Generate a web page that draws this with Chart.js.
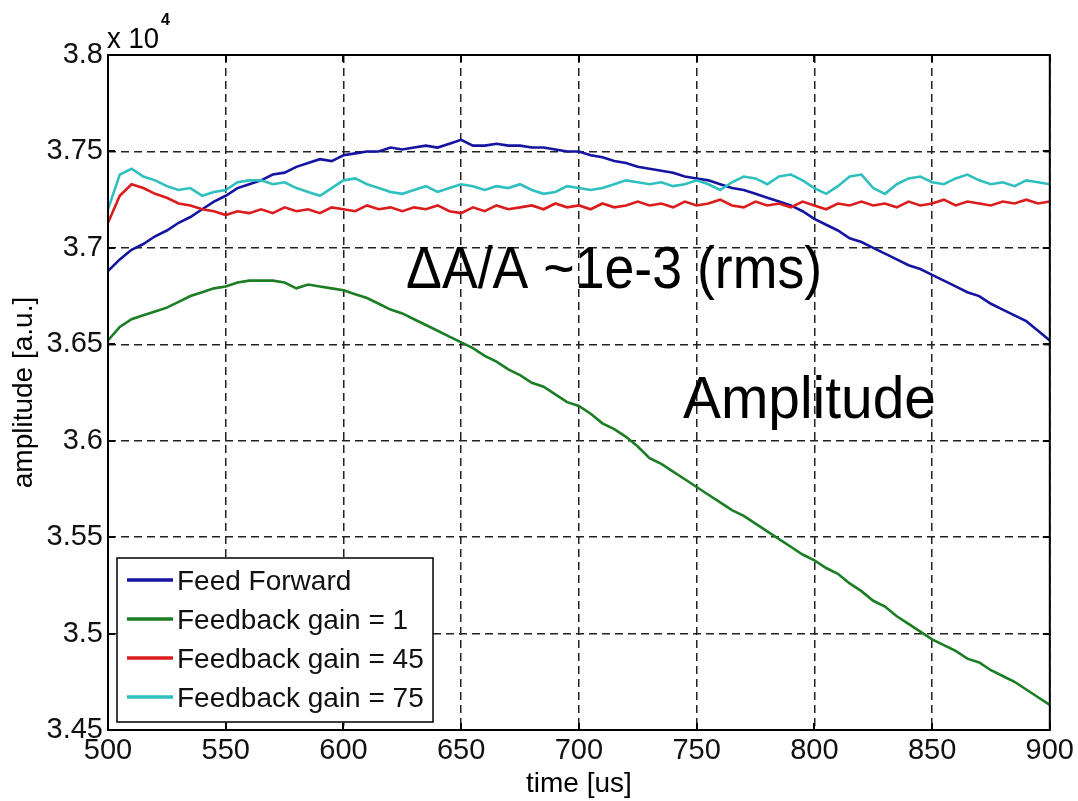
<!DOCTYPE html>
<html>
<head>
    <title>Amplitude</title>
    <script src="https://cdn.jsdelivr.net/npm/chart.js@4.4.0/dist/chart.umd.min.js"></script>
    <style>
        body { margin: 0; background: #fff; }
        #chart-container { width: 1078px; height: 801px; }
    </style>
</head>
<body>
    <div id="chart-container">
        <canvas id="ampChart" width="1078" height="801"></canvas>
    </div>
    <script>
        // sample times [us]
        const timeUs = [
            500, 505, 510, 515, 520, 525, 530, 535, 540, 545,
            550, 555, 560, 565, 570, 575, 580, 585, 590, 595,
            600, 605, 610, 615, 620, 625, 630, 635, 640, 645,
            650, 655, 660, 665, 670, 675, 680, 685, 690, 695,
            700, 705, 710, 715, 720, 725, 730, 735, 740, 745,
            750, 755, 760, 765, 770, 775, 780, 785, 790, 795,
            800, 805, 810, 815, 820, 825, 830, 835, 840, 845,
            850, 855, 860, 865, 870, 875, 880, 885, 890, 895,
            900
        ];

        // amplitude, in units of 1e4 a.u.
        const feedForward = [
            3.688, 3.694, 3.699, 3.702, 3.706, 3.709, 3.713, 3.716, 3.720, 3.724,
            3.727, 3.731, 3.733, 3.735, 3.738, 3.739, 3.742, 3.744, 3.746, 3.745,
            3.748, 3.749, 3.750, 3.750, 3.752, 3.751, 3.752, 3.753, 3.752, 3.754,
            3.756, 3.753, 3.753, 3.754, 3.753, 3.753, 3.752, 3.752, 3.751, 3.750,
            3.750, 3.748, 3.747, 3.745, 3.744, 3.742, 3.741, 3.740, 3.739, 3.737,
            3.736, 3.735, 3.733, 3.731, 3.730, 3.728, 3.726, 3.724, 3.722, 3.719,
            3.715, 3.712, 3.709, 3.705, 3.703, 3.700, 3.697, 3.694, 3.691, 3.689,
            3.686, 3.683, 3.680, 3.677, 3.675, 3.671, 3.668, 3.665, 3.662, 3.657,
            3.652
        ];
        const gain1 = [
            3.652, 3.659, 3.663, 3.665, 3.667, 3.669, 3.672, 3.675, 3.677, 3.679,
            3.680, 3.682, 3.683, 3.683, 3.683, 3.682, 3.679, 3.681, 3.680, 3.679,
            3.678, 3.676, 3.674, 3.671, 3.668, 3.666, 3.663, 3.660, 3.657, 3.654,
            3.651, 3.648, 3.644, 3.641, 3.637, 3.634, 3.630, 3.628, 3.624, 3.620,
            3.618, 3.614, 3.609, 3.606, 3.602, 3.597, 3.591, 3.588, 3.584, 3.580,
            3.576, 3.572, 3.568, 3.564, 3.561, 3.557, 3.553, 3.549, 3.545, 3.541,
            3.538, 3.534, 3.531, 3.526, 3.522, 3.517, 3.514, 3.509, 3.505, 3.501,
            3.497, 3.494, 3.491, 3.487, 3.485, 3.481, 3.478, 3.475, 3.471, 3.467,
            3.463
        ];
        const gain45 = [
            3.713, 3.727, 3.733, 3.731, 3.728, 3.726, 3.723, 3.722, 3.720, 3.719,
            3.717, 3.719, 3.718, 3.720, 3.718, 3.721, 3.719, 3.720, 3.718, 3.721,
            3.720, 3.719, 3.722, 3.720, 3.721, 3.719, 3.721, 3.720, 3.722, 3.719,
            3.718, 3.721, 3.719, 3.722, 3.720, 3.721, 3.722, 3.720, 3.723, 3.721,
            3.722, 3.720, 3.723, 3.721, 3.722, 3.724, 3.722, 3.723, 3.721, 3.724,
            3.722, 3.723, 3.725, 3.722, 3.721, 3.724, 3.722, 3.723, 3.721, 3.724,
            3.722, 3.720, 3.723, 3.722, 3.724, 3.722, 3.723, 3.721, 3.724, 3.722,
            3.723, 3.725, 3.722, 3.724, 3.723, 3.722, 3.724, 3.723, 3.725, 3.723,
            3.724
        ];
        const gain75 = [
            3.720, 3.738, 3.741, 3.737, 3.735, 3.732, 3.730, 3.731, 3.727, 3.729,
            3.730, 3.734, 3.735, 3.735, 3.733, 3.734, 3.731, 3.729, 3.727, 3.731,
            3.735, 3.736, 3.733, 3.731, 3.729, 3.728, 3.730, 3.732, 3.729, 3.731,
            3.733, 3.732, 3.730, 3.732, 3.731, 3.733, 3.730, 3.728, 3.729, 3.732,
            3.731, 3.730, 3.731, 3.733, 3.735, 3.734, 3.733, 3.734, 3.732, 3.733,
            3.735, 3.733, 3.730, 3.734, 3.737, 3.736, 3.733, 3.737, 3.738, 3.735,
            3.731, 3.728, 3.732, 3.737, 3.738, 3.731, 3.728, 3.733, 3.736, 3.737,
            3.734, 3.733, 3.736, 3.738, 3.735, 3.733, 3.734, 3.732, 3.735, 3.734,
            3.733
        ];

        const seriesLabels = ['Feed Forward', 'Feedback gain = 1', 'Feedback gain = 45', 'Feedback gain = 75'];
        const seriesColors = ['#1414a0', '#1b7d24', '#dc1c1c', '#2fbfbf'];

        const xTicks = [500, 550, 600, 650, 700, 750, 800, 850, 900];
        const xTickLabels = ['500', '550', '600', '650', '700', '750', '800', '850', '900'];
        const yTicks = [3.45, 3.5, 3.55, 3.6, 3.65, 3.7, 3.75, 3.8];
        const yTickLabels = ['3.45', '3.5', '3.55', '3.6', '3.65', '3.7', '3.75', '3.8'];

        const FONT = '"Liberation Sans", Arial, Helvetica, sans-serif';

        function toPoints(values) {
            return timeUs.map((t, i) => ({ x: t, y: values[i] }));
        }

        // box round the axes with inward ticks, like a MATLAB figure
        const axesBox = {
            id: 'axesBox',
            afterDatasetsDraw(chart) {
                const { ctx, chartArea: a, scales: { x, y } } = chart;
                ctx.save();
                ctx.strokeStyle = '#000';
                ctx.lineWidth = 2;
                ctx.beginPath();
                x.ticks.forEach(t => {
                    const px = Math.round(x.getPixelForValue(t.value));
                    ctx.moveTo(px, a.bottom); ctx.lineTo(px, a.bottom - 7);
                    ctx.moveTo(px, a.top); ctx.lineTo(px, a.top + 7);
                });
                y.ticks.forEach(t => {
                    const py = Math.round(y.getPixelForValue(t.value));
                    ctx.moveTo(a.left, py); ctx.lineTo(a.left + 7, py);
                    ctx.moveTo(a.right, py); ctx.lineTo(a.right - 7, py);
                });
                ctx.stroke();
                ctx.strokeRect(a.left, a.top, a.right - a.left, a.bottom - a.top);

                // exponent of the y axis
                ctx.fillStyle = '#000';
                ctx.textBaseline = 'alphabetic';
                ctx.font = '29px ' + FONT;
                ctx.fillText('x 10', a.left - 1, a.top - 7, 52);
                ctx.font = 'bold 16px ' + FONT;
                ctx.fillText('4', a.left + 53, a.top - 30);

                // text notes placed in data coordinates
                ctx.font = '60px ' + FONT;
                ctx.fillText('\u0394A/A ~1e-3 (rms)', x.getPixelForValue(626.6), y.getPixelForValue(3.6792), 416);
                ctx.fillText('Amplitude', x.getPixelForValue(744.2), y.getPixelForValue(3.6118), 253);
                ctx.restore();
            }
        };

        // legend box in the lower left corner of the axes
        const cornerLegend = {
            id: 'cornerLegend',
            afterDraw(chart) {
                const { ctx, chartArea: a } = chart;
                const sets = chart.data.datasets;
                const left = a.left + 9, right = a.left + 325;
                const bottom = a.bottom - 8, rowH = 39;
                const top = bottom - 25 - (sets.length - 1) * rowH - 22;
                ctx.save();
                ctx.fillStyle = '#fff';
                ctx.fillRect(left, top, right - left, bottom - top);
                ctx.strokeStyle = '#000';
                ctx.lineWidth = 1.5;
                ctx.strokeRect(left, top, right - left, bottom - top);
                ctx.font = '28px ' + FONT;
                ctx.textBaseline = 'middle';
                sets.forEach((ds, i) => {
                    const yy = bottom - 25 - (sets.length - 1 - i) * rowH;
                    ctx.strokeStyle = ds.borderColor;
                    ctx.lineWidth = 3.5;
                    ctx.beginPath();
                    ctx.moveTo(left + 10, yy);
                    ctx.lineTo(left + 56, yy);
                    ctx.stroke();
                    ctx.fillStyle = '#111';
                    ctx.fillText(ds.label, left + 60, yy + 2, 250);
                });
                ctx.restore();
            }
        };

        const ctx = document.getElementById('ampChart').getContext('2d');
        const datasets = [feedForward, gain1, gain45, gain75].map((vals, i) => ({
            label: seriesLabels[i],
            data: toPoints(vals),
            borderColor: seriesColors[i],
            borderWidth: 2.6,
            pointRadius: 0,
            tension: 0,
            order: 4 - i
        }));

        const ampChart = new Chart(ctx, {
            type: 'line',
            data: { datasets: datasets },
            plugins: [axesBox, cornerLegend],
            options: {
                responsive: false,
                animation: false,
                layout: { padding: { top: 55, right: 25, left: 0, bottom: 0 } },
                plugins: {
                    legend: { display: false },
                    tooltip: { enabled: false }
                },
                scales: {
                    x: {
                        type: 'linear',
                        min: 500,
                        max: 900,
                        afterBuildTicks: scale => { scale.ticks = xTicks.map(v => ({ value: v })); },
                        afterFit: scale => { scale.height = 71; },
                        ticks: {
                            callback: (v, i) => xTickLabels[i],
                            font: { family: FONT, size: 29 },
                            color: '#111',
                            padding: 4,
                            maxRotation: 0,
                            autoSkip: false
                        },
                        grid: { color: '#222', lineWidth: 1.5, drawTicks: false },
                        border: { display: false, dash: [8, 5] },
                        title: {
                            display: true,
                            text: 'time [us]',
                            font: { family: FONT, size: 28 },
                            color: '#000',
                            padding: { top: 0, bottom: 0 }
                        }
                    },
                    y: {
                        type: 'linear',
                        min: 3.45,
                        max: 3.8,
                        afterBuildTicks: scale => { scale.ticks = yTicks.map(v => ({ value: v })); },
                        afterFit: scale => { scale.width = 108; },
                        ticks: {
                            callback: (v, i) => yTickLabels[i],
                            font: { family: FONT, size: 29 },
                            color: '#111',
                            padding: 5,
                            autoSkip: false
                        },
                        grid: { color: '#222', lineWidth: 1.5, drawTicks: false },
                        border: { display: false, dash: [8, 5] },
                        title: {
                            display: true,
                            text: 'amplitude [a.u.]',
                            font: { family: FONT, size: 28 },
                            color: '#000',
                            padding: { top: 7, bottom: 0 }
                        }
                    }
                }
            }
        });
    </script>
</body>
</html>
